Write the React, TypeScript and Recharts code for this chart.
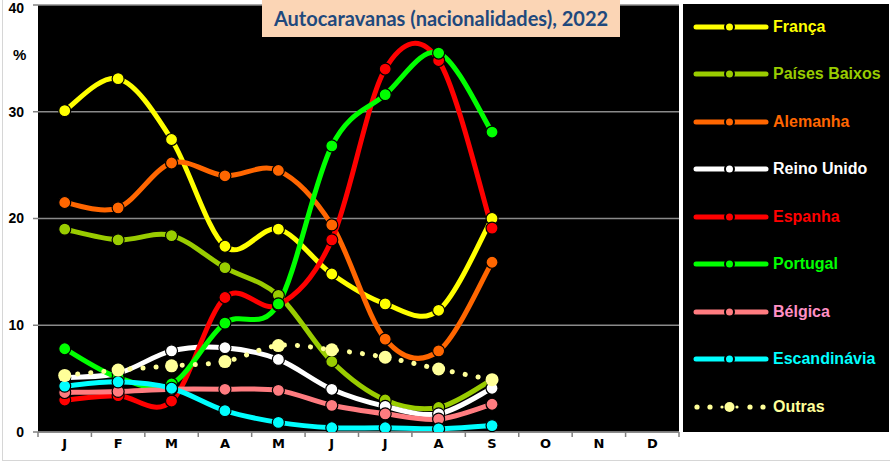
import React from 'react'
import { CartesianGrid, Line, LineChart, XAxis, YAxis } from 'recharts'

// monthly share (%) of motorhome overnight stays by nationality, 2022
const months = ['J', 'F', 'M', 'A', 'M', 'J', 'J', 'A', 'S', 'O', 'N', 'D']
const franca = [30.1, 33.1, 27.4, 17.4, 19.0, 14.8, 12.0, 11.4, 20.0, null, null, null]
const paisesBaixos = [19.0, 18.0, 18.4, 15.4, 12.8, 6.6, 3.0, 2.3, 4.9, null, null, null]
const alemanha = [21.5, 21.0, 25.2, 24.0, 24.5, 19.4, 8.7, 7.6, 15.9, null, null, null]
const reinoUnido = [5.1, 5.5, 7.6, 7.9, 6.8, 4.0, 2.4, 1.7, 4.1, null, null, null]
const espanha = [3.0, 3.4, 2.9, 12.6, 11.9, 18.0, 34.0, 34.8, 19.1, null, null, null]
const portugal = [7.8, 5.1, 4.5, 10.2, 12.0, 26.8, 31.6, 35.5, 28.1, null, null, null]
const belgica = [3.7, 3.8, 4.0, 4.0, 3.9, 2.5, 1.7, 1.2, 2.6, null, null, null]
const escandinavia = [4.3, 4.7, 4.1, 2.0, 0.9, 0.4, 0.4, 0.3, 0.6, null, null, null]
const outras = [5.3, 5.8, 6.2, 6.6, 8.1, 7.7, 7.0, 5.9, 4.9, null, null, null]
const yTicks = [0, 10, 20, 30, 40]

const series = [
  { key: 'franca', name: 'França', values: franca, color: '#FFFF00', text: '#FFFF00' },
  { key: 'pb', name: 'Países Baixos', values: paisesBaixos, color: '#99CC00', text: '#99CC00' },
  { key: 'al', name: 'Alemanha', values: alemanha, color: '#FF6600', text: '#FF6600' },
  { key: 'ru', name: 'Reino Unido', values: reinoUnido, color: '#FFFFFF', text: '#FFFFFF' },
  { key: 'es', name: 'Espanha', values: espanha, color: '#FF0000', text: '#FF0000' },
  { key: 'pt', name: 'Portugal', values: portugal, color: '#00FF00', text: '#00FF00' },
  { key: 'be', name: 'Bélgica', values: belgica, color: '#FF7C80', text: '#FF8FC4' },
  { key: 'sc', name: 'Escandinávia', values: escandinavia, color: '#00FFFF', text: '#00FFFF' },
  { key: 'ou', name: 'Outras', values: outras, color: '#FFFF99', text: '#FFFF99', dotted: true },
]

const data = months.map((m, i) => {
  const row: Record<string, any> = { m }
  series.forEach((s) => (row[s.key] = s.values[i]))
  return row
})

const W = 890
const H = 462
const LEFT = 38
const RIGHT = 211
const PLOT_W = W - LEFT - RIGHT
const BAND = PLOT_W / months.length

// Excel-like smoothed line (uniform Catmull-Rom as cubic beziers)
function smooth(context: any) {
  let pts: number[][] = []
  return {
    areaStart() {},
    areaEnd() {},
    lineStart() {
      pts = []
    },
    point(x: number, y: number) {
      pts.push([+x, +y])
    },
    lineEnd() {
      if (!pts.length) return
      context.moveTo(pts[0][0], pts[0][1])
      if (pts.length === 1) context.lineTo(pts[0][0], pts[0][1])
      for (let i = 0; i < pts.length - 1; i++) {
        const p0 = pts[i - 1] || pts[i]
        const p1 = pts[i]
        const p2 = pts[i + 1]
        const p3 = pts[i + 2] || p2
        context.bezierCurveTo(
          p1[0] + (p2[0] - p0[0]) / 6,
          p1[1] + (p2[1] - p0[1]) / 6,
          p2[0] - (p3[0] - p1[0]) / 6,
          p2[1] - (p3[1] - p1[1]) / 6,
          p2[0],
          p2[1]
        )
      }
    },
  }
}

function MonthTick(props: any) {
  const { x, y, payload, index } = props
  return (
    <g>
      <line x1={x - BAND / 2} x2={x - BAND / 2} y1={y} y2={y + 5} stroke="#808080" strokeWidth={1.5} />
      {index === months.length - 1 && (
        <line x1={x + BAND / 2} x2={x + BAND / 2} y1={y} y2={y + 5} stroke="#808080" strokeWidth={1.5} />
      )}
      <text x={x} y={y + 16} textAnchor="middle" fontSize={13} fontWeight="bold" fill="#000" fontFamily="DejaVu Sans">
        {payload.value}
      </text>
    </g>
  )
}

function LegendIcon({ color, dotted }: { color: string; dotted?: boolean }) {
  if (dotted) {
    return (
      <svg width={76} height={14}>
        {[4, 17, 57, 70].map((cx) => (
          <circle key={cx} cx={cx} cy={7} r={2.6} fill={color} />
        ))}
        <circle cx={36.5} cy={7} r={5} fill={color} />
        <circle cx={29} cy={7} r={1.6} fill={color} />
        <circle cx={44} cy={7} r={1.6} fill={color} />
      </svg>
    )
  }
  return (
    <svg width={76} height={14}>
      <line x1={3} x2={73} y1={7} y2={7} stroke={color} strokeWidth={5} strokeLinecap="round" />
      <circle cx={36.5} cy={7} r={4.5} fill={color} stroke="#000" strokeWidth={2} />
    </svg>
  )
}

export default function App() {
  return (
    <div style={{ position: 'absolute', left: 0, top: 0, width: W, height: H, background: '#fff', overflow: 'hidden' }}>
      <div style={{ position: 'absolute', left: 2, top: -1, width: W, height: 460, border: '1px solid #d6d6d6' }} />
      <LineChart
        width={W}
        height={H}
        data={data}
        margin={{ top: 5, right: RIGHT, left: 0, bottom: 0 }}
        style={{ position: 'absolute', left: 0, top: 0 }}
      >
        <CartesianGrid fill="#000" stroke="#8a8a8a" strokeWidth={1.5} vertical={false} />
        <XAxis
          dataKey="m"
          height={30}
          padding={{ left: BAND / 2, right: BAND / 2 }}
          tickSize={0}
          tickMargin={0}
          tickLine={false}
          axisLine={{ stroke: '#808080', strokeWidth: 1.5 }}
          tick={<MonthTick />}
          interval={0}
        />
        <YAxis
          width={LEFT}
          domain={[0, 40]}
          ticks={yTicks}
          tickSize={5}
          tickMargin={9}
          tickLine={{ stroke: '#808080', strokeWidth: 1.5 }}
          axisLine={false}
          tick={{ fill: '#000', fontSize: 14, fontWeight: 'bold', fontFamily: 'Liberation Sans' }}
          allowDataOverflow
        />
        {series.map((s) => (
          <Line
            key={s.key}
            dataKey={s.key}
            name={s.name}
            type={smooth as any}
            stroke={s.color}
            strokeWidth={5}
            strokeLinecap="round"
            strokeDasharray={s.dotted ? '0.1 13' : undefined}
            dot={s.dotted ? { r: 6.5, fill: s.color, stroke: s.color, strokeWidth: 0 } : { r: 6, fill: s.color, stroke: '#000', strokeWidth: 1.2 }}
            activeDot={false}
            isAnimationActive={false}
          />
        ))}
      </LineChart>
      <div
        style={{
          position: 'absolute',
          left: 13,
          top: 46,
          fontFamily: 'Liberation Sans',
          fontWeight: 'bold',
          fontSize: 15,
        }}
      >
        %
      </div>
      <div
        style={{
          position: 'absolute',
          left: 262,
          top: 0,
          width: 358,
          height: 37,
          background: '#FBD5B5',
          color: '#1F497D',
          fontFamily: 'Lato',
          fontWeight: 'bold',
          fontSize: 20,
          lineHeight: '37px',
          textAlign: 'center',
        }}
      >
        Autocaravanas (nacionalidades), 2022
      </div>
      <div style={{ position: 'absolute', left: 683, top: 4, width: 206, height: 428, background: '#000' }}>
        {series.map((s, i) => (
          <div
            key={s.key}
            style={{
              position: 'absolute',
              left: 10,
              top: 22.7 + i * 47.5 - 10,
              height: 20,
              display: 'flex',
              alignItems: 'center',
            }}
          >
            <LegendIcon color={s.color} dotted={s.dotted} />
            <span
              style={{
                marginLeft: 4,
                color: s.text,
                fontFamily: '"Liberation Sans Narrow", "Liberation Sans"',
                fontWeight: 'bold',
                fontSize: 16,
                whiteSpace: 'nowrap',
              }}
            >
              {s.name}
            </span>
          </div>
        ))}
      </div>
    </div>
  )
}
